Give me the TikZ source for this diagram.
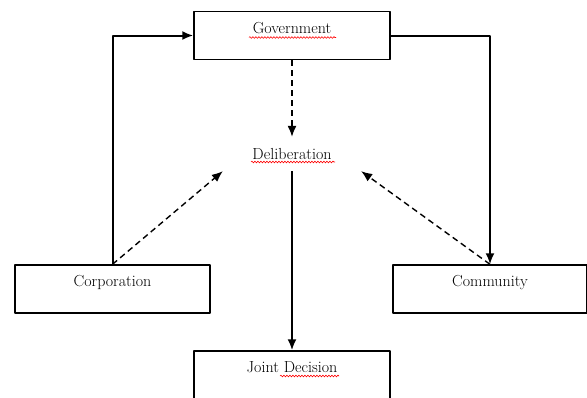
\documentclass[tikz,border=0pt]{standalone}
\usepackage{fontspec}
\usetikzlibrary{arrows.meta,decorations.pathmorphing}
\begin{document}
\begin{tikzpicture}[x=1pt,y=-1pt,line join=round,font=\fontsize{16}{19}\selectfont]
        \tikzset{
                kasten/.style={draw,line width=1.4pt,minimum width=196pt,minimum height=48pt,
                        text height=12pt,text depth=17pt},
                voll/.style={line width=2pt,-{Latex[length=11pt,width=9pt]}},
                strich/.style={line width=1.4pt,dash pattern=on 6pt off 4pt,-{Latex[length=11pt,width=9pt]}},
                welle/.style={red,line width=0.6pt,decorate,decoration={snake,segment length=3pt,amplitude=0.9pt}}
        }
        \useasboundingbox (0,0) rectangle (587,397);
        \node[kasten] (gov) at (292,35.5) {Government};
        \node[minimum width=138pt,minimum height=34pt] (delib) at (292,154) {Deliberation};
        \node[kasten,minimum width=195pt] (corp) at (112.5,289) {Corporation};
        \node[kasten,minimum width=194pt] (comm) at (490,289) {Community};
        \node[kasten] (jd) at (292,375) {Joint Decision};
        % connectors
        \draw[voll] (corp.north) |- (gov.west);
        \draw[voll] (gov.east) -| (comm.north);
        \draw[strich] (gov.south) -- (delib.north);
        \draw[strich] (corp.north) -- (delib.south west);
        \draw[strich] (comm.north) -- (delib.south east);
        \draw[voll] (delib.south) -- (jd.north);
        % spelling marks
        \draw[welle] ([xshift=-43pt,yshift=-2pt]gov.center) -- ([xshift=44pt,yshift=-2pt]gov.center);
        \draw[welle] ([xshift=-41pt,yshift=-8pt]delib.center) -- ([xshift=43pt,yshift=-8pt]delib.center);
        \draw[welle] ([xshift=-12pt,yshift=-1pt]jd.center) -- ([xshift=47pt,yshift=-1pt]jd.center);
\end{tikzpicture}
\end{document}
